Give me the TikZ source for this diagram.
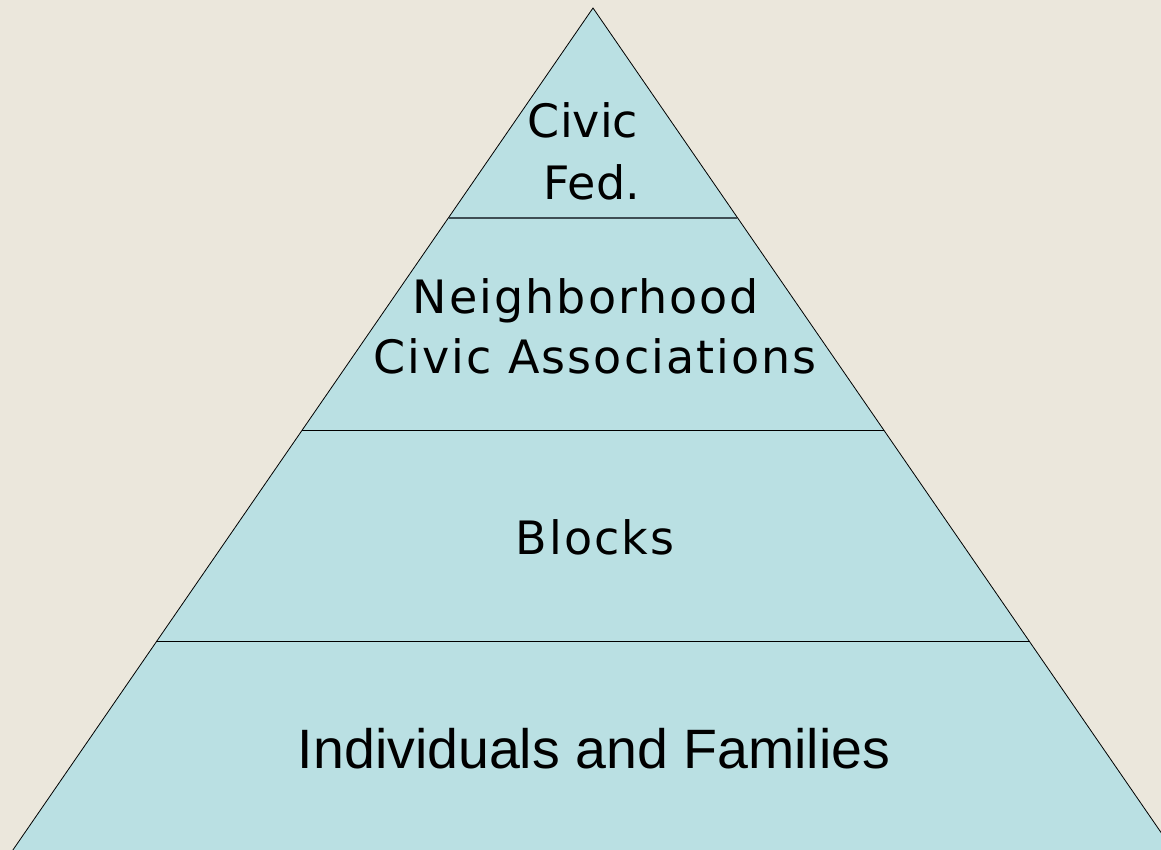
\documentclass[tikz,border=0pt]{standalone}
\usepackage{fontspec}
\setmainfont{DejaVu Sans}
\newfontfamily\spacedfont[LetterSpace=4.4]{DejaVu Sans}
\newfontfamily\arialfont{Liberation Sans}
\definecolor{bgc}{RGB}{235,231,220}
\definecolor{pyr}{RGB}{186,224,227}
\definecolor{divc}{RGB}{62,78,84}
\begin{document}
\begin{tikzpicture}[x=1pt,y=-1pt,
  lbl/.style={inner sep=0pt,anchor=base,text=black},
  divline/.style={draw=black,line width=0.8pt}]
\useasboundingbox (0,0) rectangle (1161,850);
\fill[bgc] (0,0) rectangle (1161,850);
\coordinate (apex) at (593,8);
\coordinate (bl) at (6,860);
\coordinate (br) at (1180,860);
\begin{scope}
\clip (0,0) rectangle (1161,850);
\filldraw[fill=pyr,draw=black,line width=0.8pt] (apex) -- (bl) -- (br) -- cycle;
\end{scope}
\coordinate (d1l) at (449,218); \coordinate (d1r) at (737,218);
\coordinate (d2l) at (302,430); \coordinate (d2r) at (884,430);
\coordinate (d3l) at (157,641); \coordinate (d3r) at (1029,641);
\draw[draw=divc,line width=1.8pt] (d1l) -- (d1r);
\draw[divline] (d2l) -- (d2r);
\draw[divline] (d3l) -- (d3r);
\node[lbl,font=\fontsize{46}{50}\selectfont] (civic) at (583,138) {Civic};
\node[lbl,font=\fontsize{46}{50}\selectfont] (fed) at (592,200) {Fed.};
\node[lbl,font=\spacedfont\fontsize{46}{50}\selectfont] (neigh) at (586,313) {Neighborhood};
\node[lbl,font=\spacedfont\fontsize{46}{50}\selectfont] (assoc) at (595,373) {Civic Associations};
\node[lbl,font=\spacedfont\fontsize{46}{50}\selectfont] (blocks) at (595,554) {Blocks};
\node[lbl,font=\arialfont\fontsize{55.5}{60}\selectfont] (indiv) at (594,768) {Individuals and Families};
\end{tikzpicture}
\end{document}
